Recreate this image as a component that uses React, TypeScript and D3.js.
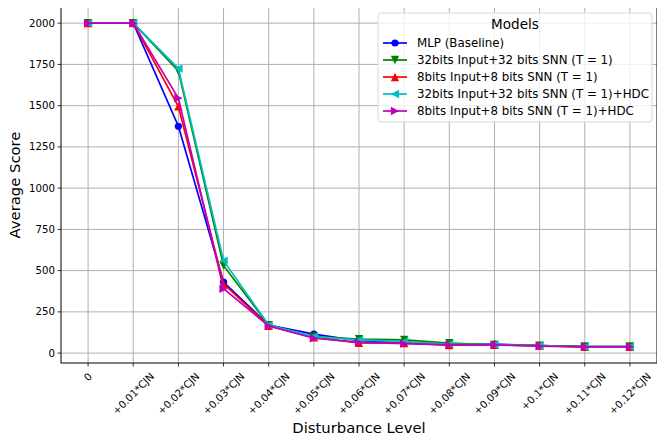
import React, { useRef, useEffect } from 'react';
import * as d3 from 'd3';

const levels = ['0', '+0.01*CJN', '+0.02*CJN', '+0.03*CJN', '+0.04*CJN', '+0.05*CJN', '+0.06*CJN',
  '+0.07*CJN', '+0.08*CJN', '+0.09*CJN', '+0.1*CJN', '+0.11*CJN', '+0.12*CJN'];

const mlp = [2000, 2000, 1375, 430, 170, 115, 75, 65, 50, 55, 45, 40, 40];
const snn32 = [2000, 2000, 1710, 530, 170, 100, 85, 80, 60, 50, 45, 40, 40];
const snn8 = [2000, 2000, 1495, 420, 165, 95, 62, 60, 48, 50, 45, 38, 38];
const snn32Hdc = [2000, 2000, 1725, 560, 170, 100, 80, 70, 55, 50, 45, 38, 38];
const snn8Hdc = [2000, 2000, 1545, 390, 165, 90, 65, 58, 50, 50, 42, 38, 38];

const yTicks = [0, 250, 500, 750, 1000, 1250, 1500, 1750, 2000];

const series = [
  { name: 'MLP (Baseline)', values: mlp, color: '#0000ff', marker: 'o' },
  { name: '32bits Input+32 bits SNN (T = 1)', values: snn32, color: '#008000', marker: 'v' },
  { name: '8bits Input+8 bits SNN (T = 1)', values: snn8, color: '#ff0000', marker: '^' },
  { name: '32bits Input+32 bits SNN (T = 1)+HDC', values: snn32Hdc, color: '#00bfbf', marker: '<' },
  { name: '8bits Input+8 bits SNN (T = 1)+HDC', values: snn8Hdc, color: '#bf00bf', marker: '>' },
];

const W = 665;
const H = 444;

export default function App() {
  const svgRef = useRef<SVGSVGElement | null>(null);

  useEffect(() => {
    if (!svgRef.current) return;
    const svg = d3.select(svgRef.current);
    svg.selectAll('*').remove();

    const left = 61, right = 657, top = 7, bottom = 363;
    const font = 'DejaVu Sans, sans-serif';

    const x = d3.scaleLinear().domain([-0.6, levels.length - 1 + 0.6]).range([left, right]);
    const y = d3.scaleLinear().domain([-60, 2098]).range([bottom, top]);

    const g = svg.append('g');

    // grid
    levels.forEach((_, i) => {
      g.append('line')
        .attr('x1', x(i)).attr('x2', x(i)).attr('y1', top).attr('y2', bottom)
        .attr('stroke', '#b0b0b0').attr('stroke-width', 1);
    });
    yTicks.forEach(t => {
      g.append('line')
        .attr('x1', left).attr('x2', right).attr('y1', y(t)).attr('y2', y(t))
        .attr('stroke', '#b0b0b0').attr('stroke-width', 1);
    });

    // ticks + labels
    yTicks.forEach(t => {
      g.append('line')
        .attr('x1', left - 3.5).attr('x2', left).attr('y1', y(t)).attr('y2', y(t))
        .attr('stroke', '#000').attr('stroke-width', 0.8);
      g.append('text')
        .attr('x', left - 6).attr('y', y(t)).attr('dy', '0.35em')
        .attr('text-anchor', 'end').attr('font-size', '10.2px').attr('font-family', font)
        .text(String(t));
    });

    levels.forEach((lab, i) => {
      g.append('line')
        .attr('x1', x(i)).attr('x2', x(i)).attr('y1', bottom).attr('y2', bottom + 3.5)
        .attr('stroke', '#000').attr('stroke-width', 0.8);
      const txt = g.append('text')
        .attr('text-anchor', 'middle').attr('font-size', '10.2px').attr('font-family', font)
        .attr('dy', '0.35em')
        .text(lab);
      const len = (txt.node() as SVGTextElement).getComputedTextLength();
      const h = 10;
      const bh = (len + h) * Math.SQRT1_2;
      const cy = bottom + 8 + bh / 2;
      txt.attr('transform', `translate(${x(i)},${cy}) rotate(-45)`);
    });

    // series
    const line = d3.line<number>().x((_, i) => x(i)).y(d => y(d));
    const ms = 3.6;
    const markerPath = (m: string) => {
      if (m === 'o') return d3.symbol(d3.symbolCircle, Math.PI * ms * ms)();
      const a = ms * 1.15;
      if (m === 'v') return `M${-a},${-a}L${a},${-a}L0,${a}Z`;
      if (m === '^') return `M${-a},${a}L${a},${a}L0,${-a}Z`;
      if (m === '<') return `M${a},${-a}L${a},${a}L${-a},0Z`;
      return `M${-a},${-a}L${-a},${a}L${a},0Z`;
    };

    series.forEach(s => {
      g.append('path')
        .attr('d', line(s.values))
        .attr('fill', 'none').attr('stroke', s.color).attr('stroke-width', 1.7);
      s.values.forEach((v, i) => {
        g.append('path')
          .attr('d', markerPath(s.marker))
          .attr('transform', `translate(${x(i)},${y(v)})`)
          .attr('fill', s.color);
      });
    });

    // frame
    g.append('rect')
      .attr('x', left).attr('y', top).attr('width', right - left).attr('height', bottom - top)
      .attr('fill', 'none').attr('stroke', '#000').attr('stroke-width', 1);

    // axis titles
    g.append('text')
      .attr('x', (left + right) / 2).attr('y', 433)
      .attr('text-anchor', 'middle').attr('font-size', '14.8px').attr('font-family', font)
      .text('Disturbance Level');
    g.append('text')
      .attr('transform', `translate(19.5,${(top + bottom) / 2}) rotate(-90)`)
      .attr('text-anchor', 'middle').attr('font-size', '14.8px').attr('font-family', font)
      .text('Average Score');

    // legend
    const lg = g.append('g');
    lg.append('rect')
      .attr('x', 378).attr('y', 13).attr('width', 274).attr('height', 109).attr('rx', 3)
      .attr('fill', 'rgba(255,255,255,0.8)').attr('stroke', '#d8d8d8').attr('stroke-width', 1);
    lg.append('text')
      .attr('x', 515).attr('y', 24).attr('dy', '0.35em')
      .attr('text-anchor', 'middle').attr('font-size', '13.6px').attr('font-family', font)
      .text('Models');
    series.forEach((s, i) => {
      const yy = 43 + i * 17;
      lg.append('line')
        .attr('x1', 383).attr('x2', 407).attr('y1', yy).attr('y2', yy)
        .attr('stroke', s.color).attr('stroke-width', 1.7);
      lg.append('path')
        .attr('d', markerPath(s.marker))
        .attr('transform', `translate(395,${yy})`)
        .attr('fill', s.color);
      lg.append('text')
        .attr('x', 417).attr('y', yy).attr('dy', '0.35em')
        .attr('font-size', '11.85px').attr('font-family', font)
        .text(s.name);
    });
  }, []);

  return <svg ref={svgRef} width={W} height={H} style={{ display: 'block', margin: -8 }}></svg>;
}
